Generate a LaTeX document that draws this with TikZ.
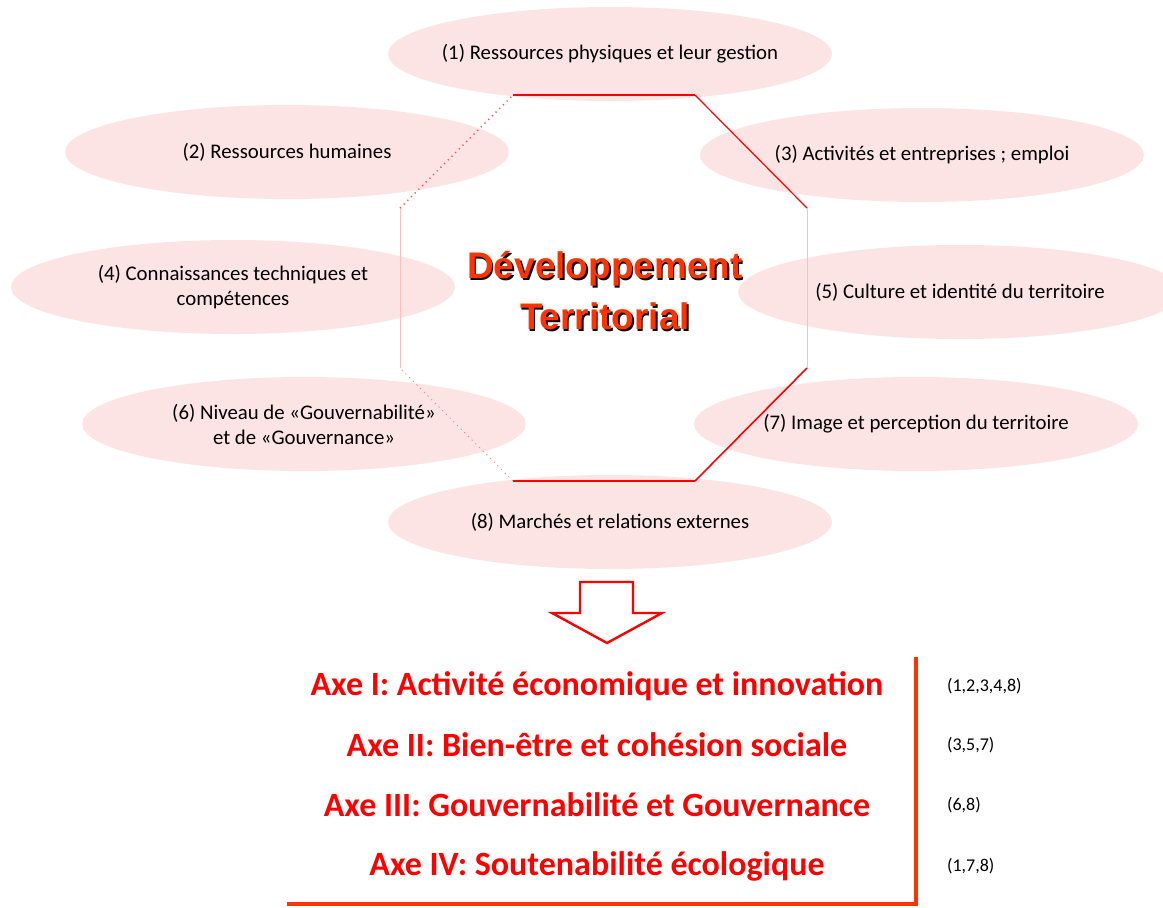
\documentclass[tikz,border=0pt]{standalone}
\usepackage{fontspec}
\setmainfont{Carlito}
\newfontfamily\titrefont{Liberation Sans}
\usetikzlibrary{shapes.geometric}
\definecolor{rose}{RGB}{253,228,228}
\definecolor{rougeorange}{RGB}{255,51,0}
\begin{document}
\begin{tikzpicture}
[
    x=0.5pt, y=-0.5pt,
    facteur/.style={ellipse, fill=rose, minimum width=222pt, minimum height=47pt,
        inner xsep=-30pt, inner ysep=0pt, align=center, font=\fontsize{10.4}{12.5}\selectfont},
    titre/.style={align=center, font=\titrefont\fontsize{18.5}{25.5}\selectfont\bfseries},
    axe/.style={text=red, font=\fontsize{17}{20}\selectfont\bfseries},
    liste/.style={anchor=west, font=\fontsize{9}{11}\selectfont},
    arete/.style={red, line width=0.6pt},
]
\useasboundingbox (0,0) rectangle (1163,907);

% les huit facteurs
\node[facteur] (f1) at (610,54) {(1) Ressources physiques et leur gestion};
\node[facteur] (f2) at (287,152) {(2) Ressources humaines};
\node[facteur] (f3) at (922,155) {(3) Activités et entreprises ; emploi};
\node[facteur] (f4) at (233,287) {(4) Connaissances techniques et\\compétences};
\node[facteur] (f5) at (960,292) {(5) Culture et identité du territoire};
\node[facteur] (f6) at (304,424) {(6) Niveau de «Gouvernabilité»\\et de «Gouvernance»};
\node[facteur] (f7) at (916,424) {(7) Image et perception du territoire};
\node[facteur] (f8) at (610,522) {(8) Marchés et relations externes};

% octogone
\coordinate (o1) at (513,95);
\coordinate (o2) at (695,95);
\coordinate (o3) at (807,208);
\coordinate (o4) at (807,368);
\coordinate (o5) at (695,481);
\coordinate (o6) at (513,481);
\coordinate (o7) at (400,368);
\coordinate (o8) at (400,208);
\draw[arete, line width=1.4pt] (o1) -- (o2);
\draw[arete] (o2) -- (o3);
\draw[arete, red!25, line width=0.4pt] (o3) -- (o4);
\draw[arete, line width=0.8pt] (o4) -- (o5);
\draw[arete, line width=1.4pt] (o5) -- (o6);
\draw[arete, red!50, dotted, line width=0.5pt] (o6) -- (o7);
\draw[arete, red!25, line width=0.4pt] (o7) -- (o8);
\draw[arete, red!70, dotted, line width=0.7pt] (o8) -- (o1);

\node[titre, text=black] at (606.5,292.5) {Développement\\Territorial};
\node[titre, text=rougeorange] (dt) at (605,291) {Développement\\Territorial};

% fleche
\draw[red, line width=1.2pt, fill=white, line join=miter]
    (580,582) -- (633,582) -- (633,613) -- (662,613) -- (607,643)
    -- (552,613) -- (580,613) -- cycle;

% les axes
\node[axe] (a1) at (597,686) {Axe I: Activité économique et innovation};
\node[axe] (a2) at (597,745) {Axe II: Bien-être et cohésion sociale};
\node[axe] (a3) at (597,805) {Axe III: Gouvernabilité et Gouvernance};
\node[axe] (a4) at (597,866) {Axe IV: Soutenabilité écologique};
\node[liste] (n1) at (940,686) {(1,2,3,4,8)};
\node[liste] (n2) at (940,745) {(3,5,7)};
\node[liste] (n3) at (940,805) {(6,8)};
\node[liste] (n4) at (940,866) {(1,7,8)};

\coordinate (c1) at (916,657);
\coordinate (c2) at (916,904);
\coordinate (c3) at (287,904);
\draw[rougeorange, line width=2pt, line join=miter] (c1) -- (c2) -- (c3);
\end{tikzpicture}
\end{document}
